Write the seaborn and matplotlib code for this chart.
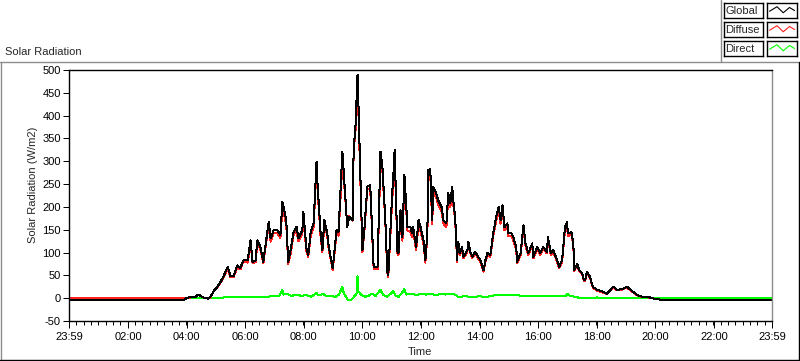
import matplotlib
matplotlib.use("Agg")
import matplotlib.pyplot as plt
from matplotlib.lines import Line2D
from matplotlib.ticker import FixedLocator
import seaborn as sns
import numpy as np
import pandas as pd

# --- DATA ---
times = ["00:00", "03:56", "04:00", "04:08", "04:18", "04:24", "04:32", "04:38", "04:45", "04:50",
         "04:55", "05:03", "05:09", "05:15", "05:24", "05:30", "05:36", "05:44", "05:50", "05:56",
         "06:05", "06:11", "06:15", "06:21", "06:25", "06:31", "06:37", "06:48", "06:52", "06:58",
         "07:06", "07:12", "07:16", "07:20", "07:24", "07:28", "07:33", "07:39", "07:45", "07:49",
         "07:57", "07:59", "08:05", "08:09", "08:14", "08:20", "08:26", "08:28", "08:34", "08:38",
         "08:42", "08:48", "08:50", "08:59", "09:03", "09:07", "09:11", "09:19", "09:21", "09:29",
         "09:33", "09:40", "09:42", "09:46", "09:50", "09:52", "09:55", "10:00", "10:04", "10:10",
         "10:16", "10:23", "10:31", "10:37", "10:41", "10:47", "10:51", "10:53", "10:57", "11:01",
         "11:03", "11:06", "11:12", "11:14", "11:18", "11:22", "11:26", "11:30", "11:32", "11:38",
         "11:42", "11:44", "11:50", "11:55", "11:59", "12:05", "12:09", "12:13", "12:15", "12:19",
         "12:23", "12:25", "12:31", "12:35", "12:42", "12:46", "12:52", "12:56", "13:00", "13:04",
         "13:06", "13:10", "13:14", "13:16", "13:20", "13:24", "13:27", "13:35", "13:37", "13:41",
         "13:45", "13:51", "13:57", "14:02", "14:08", "14:12", "14:16", "14:22", "14:28", "14:34",
         "14:39", "14:43", "14:47", "14:51", "14:57", "14:59", "15:05", "15:09", "15:15", "15:17",
         "15:24", "15:30", "15:34", "15:40", "15:48", "15:50", "15:58", "16:04", "16:10", "16:18",
         "16:20", "16:26", "16:31", "16:39", "16:43", "16:49", "16:51", "16:55", "16:59", "17:01",
         "17:08", "17:12", "17:14", "17:20", "17:24", "17:30", "17:34", "17:36", "17:40", "17:46",
         "17:52", "18:01", "18:11", "18:21", "18:34", "18:42", "18:52", "19:02", "19:13", "19:23",
         "19:33", "19:45", "19:53", "20:10", "23:59"]

global_rad = [-3, -3, 1, 2, 3, 8, 3, 0, -1, 5,
              15, 25, 35, 47, 68, 48, 48, 72, 66, 83,
              83, 127, 79, 83, 127, 112, 80, 167, 131, 149,
              149, 138, 211, 193, 171, 80, 105, 145, 156, 131,
              149, 189, 112, 94, 144, 164, 299, 252, 149, 105,
              171, 142, 120, 66, 105, 149, 145, 321, 288, 156,
              178, 171, 325, 380, 490, 420, 300, 105, 150, 244,
              248, 69, 69, 321, 288, 171, 58, 50, 142, 230,
              259, 325, 99, 101, 193, 134, 270, 200, 156, 156,
              142, 156, 112, 171, 156, 127, 83, 142, 281, 283,
              171, 244, 230, 215, 200, 171, 164, 230, 208, 244,
              215, 178, 83, 124, 99, 112, 91, 105, 124, 102,
              91, 102, 91, 83, 61, 83, 99, 95, 142, 178,
              200, 171, 204, 156, 164, 142, 142, 134, 112, 80,
              99, 160, 120, 99, 120, 91, 112, 99, 112, 102,
              134, 99, 105, 83, 69, 83, 105, 156, 167, 142,
              145, 120, 61, 76, 61, 55, 39, 39, 58, 47,
              25, 18, 15, 10, 25, 18, 20, 25, 15, 7,
              3, 3, 0, -3, -3]

diffuse_rad = [0, 0, 0.5, 1.5, 2.5, 7, 2.5, 0, -1, 4,
               14, 24, 33, 45, 64, 46, 46, 68, 63, 80,
               78, 120, 76, 79, 121, 107, 76, 160, 124, 142,
               142, 132, 196, 180, 162, 75, 98, 138, 148, 125,
               141, 180, 105, 90, 136, 155, 285, 240, 140, 100,
               162, 137, 114, 62, 100, 141, 137, 295, 275, 158,
               180, 170, 320, 370, 445, 400, 290, 100, 146, 238,
               240, 65, 64, 300, 278, 165, 55, 47, 133, 215,
               245, 310, 94, 96, 183, 126, 250, 190, 148, 146,
               133, 147, 105, 162, 147, 120, 78, 135, 268, 272,
               162, 233, 221, 206, 191, 163, 156, 221, 199, 235,
               207, 171, 80, 120, 95, 108, 88, 101, 120, 99,
               88, 99, 87, 79, 58, 79, 95, 91, 136, 170,
               192, 163, 196, 149, 157, 136, 136, 127, 106, 76,
               94, 153, 115, 95, 115, 87, 108, 95, 108, 98,
               129, 95, 101, 79, 66, 79, 101, 150, 158, 136,
               140, 116, 59, 73, 59, 53, 37, 37, 56, 45,
               23, 16, 13, 9, 23, 17, 19, 23, 14, 6,
               2, 2, 0, -3, -3]

direct_times = ["00:00", "03:56", "04:00", "05:00", "05:30", "06:00", "06:30", "07:00", "07:10", "07:16",
                "07:18", "07:25", "07:35", "07:45", "07:55", "08:05", "08:15", "08:26", "08:30", "08:40",
                "08:48", "08:55", "09:05", "09:12", "09:19", "09:22", "09:30", "09:36", "09:42", "09:48",
                "09:50", "09:52", "09:58", "10:05", "10:12", "10:20", "10:27", "10:37", "10:42", "10:51",
                "10:58", "11:03", "11:08", "11:14", "11:20", "11:26", "11:30", "11:40", "11:50", "12:00",
                "12:10", "12:20", "12:30", "12:40", "12:50", "13:00", "13:10", "13:15", "13:30", "13:45",
                "14:00", "14:15", "14:30", "14:45", "15:00", "15:10", "15:20", "15:30", "15:45", "16:00",
                "16:15", "16:30", "16:45", "16:55", "17:00", "17:05", "17:10", "17:20", "17:22", "18:00",
                "19:00", "19:50", "20:10", "23:59"]

direct_rad = [0, 0, 0.5, 1, 2, 2, 3, 4, 5, 19,
              8, 10, 5, 8, 5, 7, 3, 11, 6, 9,
              4, 5, 3, 8, 25, 10, -3, -4, 2, 10,
              48, 15, 7, 3, 5, 10, 5, 18, 8, 3,
              10, 15, 6, 3, 10, 20, 8, 10, 7, 9,
              8, 10, 7, 9, 8, 9, 8, 3, 4, 3,
              4, 3, 6, 7, 6, 8, 6, 5, 5, 4,
              5, 4, 5, 4, 9, 5, 4, 3, 1, 1.5,
              1, 1, 0.5, 0.5]

series_names = ["Global", "Diffuse", "Direct"]
series_colors = {"Global": "#000000", "Diffuse": "#ff2020", "Direct": "#00ff00"}

y_ticks = list(range(-50, 501, 50))
x_tick_labels = ["23:59", "02:00", "04:00", "06:00", "08:00", "10:00", "12:00",
                 "14:00", "16:00", "18:00", "20:00", "22:00", "23:59"]


def to_hours(t):
    h, m = t.split(":")
    return int(h) + int(m) / 60.0


df_main = pd.DataFrame({
    "hours": [to_hours(t) for t in times],
    "Global": global_rad,
    "Diffuse": diffuse_rad,
})
df_direct = pd.DataFrame({
    "hours": [to_hours(t) for t in direct_times],
    "Direct": direct_rad,
})

# --- STYLE ---
sns.set_style("white")
plt.rcParams["font.family"] = ["Liberation Sans", "DejaVu Sans"]
plt.rcParams["font.size"] = 7.5

W, H = 800, 361
PX = 0.72  # one pixel in points at dpi 100
fig = plt.figure(figsize=(W / 100, H / 100), dpi=100)


def fx(px):
    return px / W


def fy(py):
    return 1 - py / H


ax = fig.add_axes([fx(69), fy(321), fx(772) - fx(69), fy(70) - fy(321)])

# draw order: direct, diffuse, global (on top); LabVIEW-like crisp 1 px lines
sns.lineplot(data=df_direct, x="hours", y="Direct", ax=ax, color=series_colors["Direct"],
             linewidth=PX, estimator=None, antialiased=False)
sns.lineplot(data=df_main, x="hours", y="Diffuse", ax=ax, color=series_colors["Diffuse"],
             linewidth=PX, estimator=None, antialiased=False)
sns.lineplot(data=df_main, x="hours", y="Global", ax=ax, color=series_colors["Global"],
             linewidth=PX, estimator=None, antialiased=False)

x_start = -1 / 60
x_end = 24 - 1 / 60
ax.set_xlim(x_start, x_end)
ax.set_ylim(-50, 500)
major_x = [x_start] + list(range(2, 24, 2)) + [x_end]
ax.xaxis.set_major_locator(FixedLocator(major_x))
ax.set_xticklabels(x_tick_labels)
ax.xaxis.set_minor_locator(FixedLocator(np.arange(x_start, x_end, 0.25)))
ax.yaxis.set_major_locator(FixedLocator(y_ticks))
ax.set_yticklabels([str(v) for v in y_ticks])
ax.tick_params(axis="x", which="major", direction="out", length=5, width=PX, pad=3,
               colors="black", labelsize=8)
ax.tick_params(axis="x", which="minor", direction="out", length=3, width=PX, colors="black")
ax.tick_params(axis="y", which="major", direction="out", length=4, width=PX, pad=2,
               colors="black", labelsize=8)
ax.tick_params(bottom=True, left=True, which="both")
ax.tick_params(axis="y", which="minor", left=False)

for side in ["top", "left", "bottom"]:
    ax.spines[side].set_color("black")
    ax.spines[side].set_linewidth(PX * 1.4)
ax.spines["right"].set_color("#8c8c8c")
ax.spines["right"].set_linewidth(PX * 1.4)

ax.set_xlabel("")
ax.set_ylabel("")
fig.text(fx(420), fy(352), "Time", ha="center", va="center", fontsize=8)
fig.text(fx(33), fy(185), "Solar Radiation (W/m2)", ha="center", va="center",
         rotation=90, fontsize=8)
fig.text(fx(5), fy(52), "Solar Radiation", ha="left", va="center", fontsize=8)

# --- PANEL FRAME ---
fig.add_artist(Line2D([0, 1], [fy(61.5), fy(61.5)], color="#8c8c8c", lw=1.0))
fig.add_artist(Line2D([fx(1), fx(1)], [fy(61.5), fy(359)], color="#8c8c8c", lw=1.0))
fig.add_artist(Line2D([0, 1], [fy(359.5), fy(359.5)], color="black", lw=1.0))
fig.add_artist(Line2D([fx(799), fx(799)], [fy(61.5), fy(360)], color="black", lw=1.0))
fig.add_artist(Line2D([fx(721), fx(721)], [fy(0), fy(61.5)], color="#8c8c8c", lw=1.0))

# --- LEGEND ---
row_tops = [3, 22, 41]
zig_x = [0.0, 0.3, 0.55, 0.8, 1.0]
zig_y = [0.45, 0.75, 0.35, 0.7, 0.5]
for name, top in zip(series_names, row_tops):
    lab = fig.add_axes([fx(724), fy(top + 15), fx(763) - fx(724), fy(top) - fy(top + 15)])
    lab.set_xticks([])
    lab.set_yticks([])
    for s in lab.spines.values():
        s.set_color("black")
        s.set_linewidth(1.0)
    lab.text(0.04, 0.45, name, ha="left", va="center", fontsize=8, transform=lab.transAxes)
    sw = fig.add_axes([fx(767), fy(top + 15), fx(797) - fx(767), fy(top) - fy(top + 15)])
    sw.set_xticks([])
    sw.set_yticks([])
    for s in sw.spines.values():
        s.set_color("black")
        s.set_linewidth(1.0)
    sw.plot(zig_x, zig_y, color=series_colors[name], lw=0.8)
    sw.set_xlim(-0.1, 1.1)
    sw.set_ylim(0, 1)

fig.savefig("out.png", dpi=100)
